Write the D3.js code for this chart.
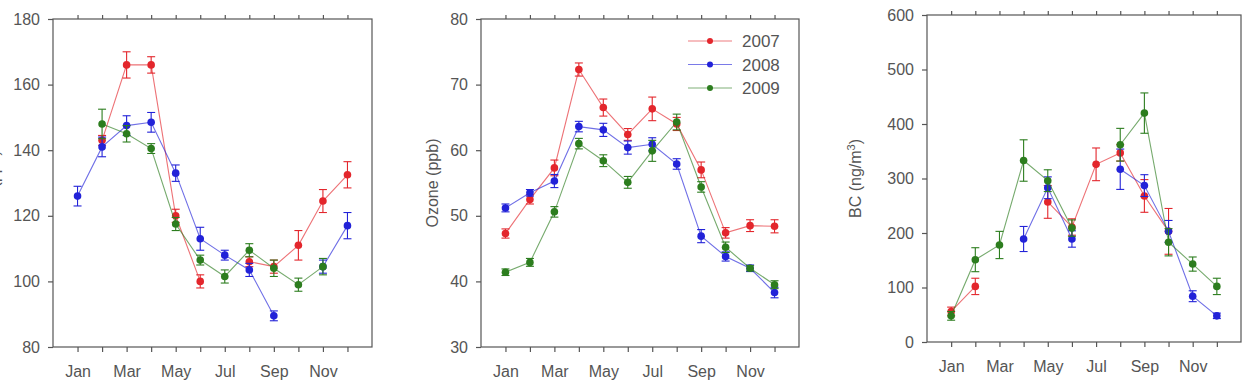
<!DOCTYPE html>
<html>
<head>
<meta charset="utf-8">
<script src="https://cdn.jsdelivr.net/npm/d3@7"></script>
<style>
  body { margin: 0; background: #fff; }
  svg text { font-family: "Liberation Sans", Arial, sans-serif; fill: #555; }
</style>
</head>
<body>
<div id="chart"></div>
<script>
// frame
let FRAME_WIDTH = 1245;
let FRAME_HEIGHT = 386;

// months 1..12, labels on odd months
const months = [1, 2, 3, 4, 5, 6, 7, 8, 9, 10, 11, 12];
const monthLabels = {1: "Jan", 3: "Mar", 5: "May", 7: "Jul", 9: "Sep", 11: "Nov"};
const years = ["2007", "2008", "2009"];
const colors = ["#e3262c", "#2222d8", "#2c7d1e"];

// panel 1 (axis title cut off on the left)
const co2007 = [null, 143, 166, 166, 120, 100, null, 106, 104.5, 111, 124.5, 132.5];
const co2007err = [null, 1.5, 4, 2.5, 2, 2, null, 1.5, 2, 4.5, 3.5, 4];
const co2008 = [126, 141, 147.5, 148.5, 133, 113, 108, 103.5, 89.5, null, 104.5, 117];
const co2008err = [3, 3, 3, 3, 2.5, 3.5, 1.5, 2, 1.5, null, 2, 4];
const co2009 = [null, 148, 145, 140.5, 117.5, 106.5, 101.5, 109.5, 104, 99, 104.5, null];
const co2009err = [null, 4.5, 2.5, 1.5, 2, 1.5, 2, 2, 2.5, 2, 2.5, null];
const coTicks = [80, 100, 120, 140, 160, 180];

// panel 2: ozone
const o32007 = [47.3, 52.5, 57.3, 72.3, 66.5, 62.4, 66.3, 64, 57, 47.4, 48.5, 48.4];
const o32007err = [0.7, 0.7, 1.2, 1, 1.3, 0.9, 1.8, 1, 1.2, 0.8, 0.9, 1];
const o32008 = [51.2, 53.5, 55.3, 63.6, 63.1, 60.4, 60.9, 57.9, 46.9, 43.8, 42, 38.3];
const o32008err = [0.6, 0.5, 1, 0.8, 1, 1, 1, 0.8, 1, 0.7, 0.5, 0.8];
const o32009 = [41.4, 42.9, 50.6, 61, 58.4, 55.1, 59.9, 64.3, 54.4, 45.2, 42, 39.5];
const o32009err = [0.5, 0.6, 0.8, 0.8, 0.9, 0.9, 1.6, 1.2, 0.8, 0.8, 0.4, 0.6];
const o3Ticks = [30, 40, 50, 60, 70, 80];

// panel 3: black carbon
const bc2007 = [56, 102, null, null, 257, 211, 326, 347, 268, 203, null, null];
const bc2007err = [8, 15, null, null, 30, 15, 30, 15, 30, 42, null, null];
const bc2008 = [null, null, null, 189, 283, 189, null, 317, 287, 203, 84, 48];
const bc2008err = [null, null, null, 23, 20, 15, null, 37, 20, 20, 10, 5];
const bc2009 = [48, 151, 178, 333, 296, 209, null, 362, 420, 183, 143, 102];
const bc2009err = [8, 22, 25, 38, 20, 15, null, 30, 37, 25, 13, 15];
const bcTicks = [0, 100, 200, 300, 400, 500, 600];

let svg = d3.select("#chart")
  .append("svg")
  .attr("width", FRAME_WIDTH)
  .attr("height", FRAME_HEIGHT);

function drawPanel(p) {
  const xScale = d3.scaleLinear().domain([0, 13]).range([p.left, p.right]);
  const yScale = d3.scaleLinear().domain(p.yDomain).range([p.bottom, p.top]);

  let g = svg.append("g");

  // frame box
  g.append("rect")
    .attr("x", p.left).attr("y", p.top)
    .attr("width", p.right - p.left).attr("height", p.bottom - p.top)
    .attr("fill", "none").attr("stroke", "#555").attr("stroke-width", 1.2);

  // bottom axis
  let xAxis = g.append("g")
    .attr("transform", "translate(0," + p.bottom + ")")
    .call(d3.axisBottom(xScale).tickValues(months).tickSize(5)
      .tickFormat(d => monthLabels[d] || ""));
  xAxis.select(".domain").remove();
  xAxis.selectAll("line").attr("stroke", "#555").attr("stroke-width", 1.2);
  xAxis.selectAll("text").attr("font-size", "16px").attr("dy", null).attr("y", 30);

  // top mirror ticks
  let xTop = g.append("g")
    .attr("transform", "translate(0," + p.top + ")")
    .call(d3.axisTop(xScale).tickValues(months).tickSize(4).tickFormat(""));
  xTop.select(".domain").remove();
  xTop.selectAll("line").attr("stroke", "#555").attr("stroke-width", 1.2);

  // left axis
  let yAxis = g.append("g")
    .attr("transform", "translate(" + p.left + ",0)")
    .call(d3.axisLeft(yScale).tickValues(p.ticks).tickSize(5));
  yAxis.select(".domain").remove();
  yAxis.selectAll("line").attr("stroke", "#555").attr("stroke-width", 1.2);
  yAxis.selectAll("text").attr("font-size", "16px").attr("x", -13);

  // y label
  if (p.label) {
    let t = g.append("text")
      .attr("transform", "translate(" + p.labelX + "," + ((p.top + p.bottom) / 2) + ") rotate(-90)")
      .attr("text-anchor", "middle")
      .attr("font-size", "16px");
    p.label(t);
  }

  // series
  p.series.forEach(function(s, i) {
    let pts = months.map((m, j) => ({m: m, v: s.values[j], e: s.err[j]}));
    let line = d3.line()
      .defined(d => d.v != null)
      .x(d => xScale(d.m))
      .y(d => yScale(d.v));

    g.append("path")
      .datum(pts)
      .attr("fill", "none")
      .attr("stroke", colors[i])
      .attr("stroke-opacity", 0.65)
      .attr("stroke-width", 1.1)
      .attr("d", line);

    let valid = pts.filter(d => d.v != null);
    let eb = g.selectAll(".eb" + i).data(valid).enter().append("g");
    eb.append("line")
      .attr("x1", d => xScale(d.m)).attr("x2", d => xScale(d.m))
      .attr("y1", d => yScale(d.v - d.e)).attr("y2", d => yScale(d.v + d.e))
      .attr("stroke", colors[i]).attr("stroke-width", 1.1);
    eb.append("line")
      .attr("x1", d => xScale(d.m) - 4).attr("x2", d => xScale(d.m) + 4)
      .attr("y1", d => yScale(d.v + d.e)).attr("y2", d => yScale(d.v + d.e))
      .attr("stroke", colors[i]).attr("stroke-width", 1.1);
    eb.append("line")
      .attr("x1", d => xScale(d.m) - 4).attr("x2", d => xScale(d.m) + 4)
      .attr("y1", d => yScale(d.v - d.e)).attr("y2", d => yScale(d.v - d.e))
      .attr("stroke", colors[i]).attr("stroke-width", 1.1);

    g.selectAll(".pt" + i).data(valid).enter().append("circle")
      .attr("cx", d => xScale(d.m))
      .attr("cy", d => yScale(d.v))
      .attr("r", 3.8)
      .attr("fill", colors[i]);
  });
}

drawPanel({
  left: 53, right: 372, top: 19, bottom: 347,
  yDomain: [80, 180], ticks: coTicks,
  labelX: -1,
  label: t => t.text("CO (ppb)"),
  series: [
    {values: co2007, err: co2007err},
    {values: co2008, err: co2008err},
    {values: co2009, err: co2009err}
  ]
});

drawPanel({
  left: 481, right: 799, top: 19, bottom: 347,
  yDomain: [30, 80], ticks: o3Ticks,
  labelX: 438,
  label: t => t.text("Ozone (ppb)"),
  series: [
    {values: o32007, err: o32007err},
    {values: o32008, err: o32008err},
    {values: o32009, err: o32009err}
  ]
});

drawPanel({
  left: 927, right: 1241, top: 15, bottom: 342,
  yDomain: [0, 600], ticks: bcTicks,
  labelX: 861,
  label: t => {
    t.append("tspan").text("BC (ng/m");
    t.append("tspan").attr("baseline-shift", "super").attr("font-size", "11px").text("3");
    t.append("tspan").text(")");
  },
  series: [
    {values: bc2007, err: bc2007err},
    {values: bc2008, err: bc2008err},
    {values: bc2009, err: bc2009err}
  ]
});

// legend in the ozone panel
let legend = svg.append("g");
years.forEach(function(y, i) {
  let ly = 41 + i * 23.5;
  legend.append("line")
    .attr("x1", 688).attr("x2", 732).attr("y1", ly).attr("y2", ly)
    .attr("stroke", colors[i]).attr("stroke-opacity", 0.6).attr("stroke-width", 1.1);
  legend.append("circle")
    .attr("cx", 710).attr("cy", ly).attr("r", 3).attr("fill", colors[i]);
  legend.append("text")
    .attr("x", 742).attr("y", ly + 6)
    .attr("font-size", "17px")
    .text(y);
});
</script>
</body>
</html>
